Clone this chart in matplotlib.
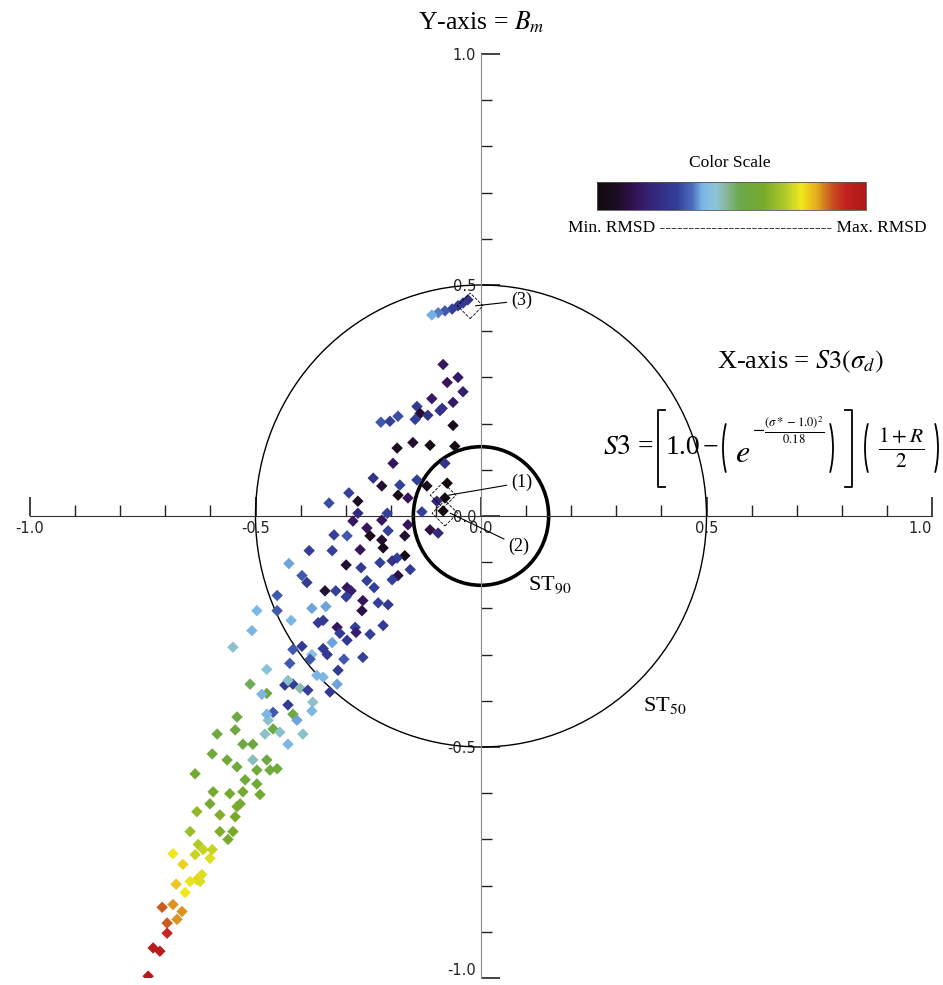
import matplotlib
matplotlib.use("Agg")
import matplotlib.pyplot as plt
import matplotlib.cm as cm
from matplotlib.colors import LinearSegmentedColormap, Normalize
from matplotlib.patches import Circle, Arc
from matplotlib.lines import Line2D
from matplotlib.ticker import MultipleLocator, FixedLocator, FormatStrFormatter

plt.rcParams["mathtext.fontset"] = "stix"
SERIF = "Liberation Serif"

# --- simulated points: x = S3(sigma_d), y = B_m, colour = normalised RMSD ---
# near label (3)
top_x = [-0.029, -0.040, -0.051, -0.064, -0.080, -0.095, -0.109]
top_y = [0.468, 0.461, 0.455, 0.448, 0.444, 0.440, 0.435]
top_c = [0.25, 0.27, 0.28, 0.30, 0.33, 0.36, 0.39]

# upper / central cloud
up_x = [-0.084, -0.051, -0.075, -0.040, -0.109, -0.062, -0.142, -0.086, -0.135, -0.118,
        -0.146, -0.184, -0.222, -0.062, -0.186, -0.151, -0.113, -0.058, -0.195, -0.080,
        -0.239, -0.220, -0.180, -0.142, -0.120, -0.293, -0.273, -0.337, -0.184, -0.162,
        -0.075, -0.080, -0.084, -0.098, -0.273, -0.208, -0.131, -0.284, -0.253, -0.206,
        -0.162, -0.169, -0.113, -0.095, -0.326, -0.297, -0.246, -0.220, -0.217, -0.381,
        -0.330, -0.268, -0.169, -0.186, -0.197, -0.091, -0.202, -0.220]
up_y = [0.328, 0.300, 0.289, 0.269, 0.254, 0.246, 0.237, 0.233, 0.222, 0.218,
        0.209, 0.216, 0.203, 0.196, 0.147, 0.159, 0.153, 0.151, 0.114, 0.114,
        0.082, 0.065, 0.067, 0.078, 0.065, 0.050, 0.032, 0.028, 0.045, 0.039,
        0.071, 0.039, 0.011, 0.032, 0.006, 0.006, 0.009, -0.011, -0.026, -0.032,
        -0.019, -0.043, -0.030, -0.037, -0.041, -0.043, -0.043, -0.052, -0.069, -0.075,
        -0.075, -0.073, -0.086, -0.091, -0.097, 0.228, 0.205, -0.009]
up_c = [0.15, 0.17, 0.15, 0.18, 0.17, 0.17, 0.28, 0.25, 0.10, 0.25,
        0.30, 0.32, 0.33, 0.05, 0.08, 0.10, 0.03, 0.03, 0.15, 0.25,
        0.25, 0.10, 0.30, 0.30, 0.05, 0.30, 0.08, 0.32, 0.03, 0.15,
        0.02, 0.02, 0.02, 0.20, 0.22, 0.30, 0.30, 0.15, 0.15, 0.30,
        0.15, 0.10, 0.12, 0.22, 0.30, 0.33, 0.05, 0.10, 0.05, 0.30,
        0.30, 0.15, 0.03, 0.30, 0.25, 0.25, 0.30, 0.15]

# middle band (crossing ST50)
mid_x = [-0.426, -0.299, -0.266, -0.224, -0.157, -0.184, -0.197, -0.397, -0.386, -0.346,
         -0.322, -0.297, -0.288, -0.253, -0.237, -0.299, -0.262, -0.228, -0.206, -0.264,
         -0.452, -0.452, -0.375, -0.344, -0.421, -0.361, -0.350, -0.319, -0.313, -0.279,
         -0.277, -0.246, -0.217, -0.297, -0.330, -0.397, -0.417, -0.350, -0.375, -0.341,
         -0.379, -0.304, -0.262, -0.424, -0.475, -0.317, -0.364, -0.350, -0.319, -0.435,
         -0.417, -0.401, -0.384, -0.428, -0.335, -0.475, -0.486, -0.373, -0.375, -0.428,
         -0.417, -0.461, -0.408, -0.472, -0.461, -0.446, -0.395]
mid_y = [-0.103, -0.106, -0.112, -0.101, -0.116, -0.129, -0.138, -0.129, -0.144, -0.162,
         -0.162, -0.155, -0.162, -0.140, -0.155, -0.175, -0.183, -0.188, -0.192, -0.205,
         -0.172, -0.205, -0.200, -0.196, -0.226, -0.231, -0.226, -0.241, -0.254, -0.241,
         -0.252, -0.256, -0.237, -0.269, -0.274, -0.282, -0.289, -0.287, -0.300, -0.300,
         -0.310, -0.310, -0.306, -0.319, -0.332, -0.334, -0.345, -0.349, -0.364, -0.366,
         -0.364, -0.373, -0.377, -0.356, -0.381, -0.384, -0.386, -0.403, -0.422, -0.409,
         -0.429, -0.425, -0.442, -0.442, -0.461, -0.468, -0.472]
mid_c = [0.38, 0.10, 0.28, 0.30, 0.28, 0.12, 0.30, 0.33, 0.28, 0.10,
         0.30, 0.15, 0.18, 0.30, 0.30, 0.30, 0.15, 0.30, 0.28, 0.12,
         0.33, 0.33, 0.38, 0.38, 0.40, 0.28, 0.28, 0.15, 0.28, 0.30,
         0.18, 0.30, 0.28, 0.28, 0.38, 0.28, 0.33, 0.28, 0.43, 0.28,
         0.33, 0.33, 0.30, 0.33, 0.43, 0.28, 0.40, 0.40, 0.38, 0.28,
         0.30, 0.47, 0.30, 0.45, 0.28, 0.55, 0.40, 0.45, 0.40, 0.28,
         0.55, 0.33, 0.38, 0.45, 0.55, 0.45, 0.45]

# lower green/yellow band
low_x = [-0.497, -0.508, -0.550, -0.512, -0.475, -0.541, -0.545, -0.585, -0.479, -0.428,
         -0.528, -0.506, -0.596, -0.563, -0.541, -0.506, -0.475, -0.497, -0.452, -0.468,
         -0.634, -0.523, -0.497, -0.594, -0.557, -0.528, -0.490, -0.601, -0.541, -0.579,
         -0.630, -0.545, -0.645, -0.579, -0.550, -0.561, -0.627, -0.616, -0.596, -0.683,
         -0.634, -0.601, -0.661, -0.534]
low_y = [-0.205, -0.248, -0.284, -0.364, -0.429, -0.435, -0.463, -0.472, -0.472, -0.494,
         -0.494, -0.494, -0.515, -0.528, -0.543, -0.528, -0.528, -0.550, -0.547, -0.550,
         -0.558, -0.571, -0.580, -0.597, -0.601, -0.597, -0.603, -0.623, -0.629, -0.647,
         -0.640, -0.651, -0.683, -0.683, -0.683, -0.700, -0.711, -0.722, -0.722, -0.731,
         -0.733, -0.741, -0.754, -0.623]
low_c = [0.40, 0.40, 0.45, 0.52, 0.40, 0.55, 0.55, 0.55, 0.45, 0.40,
         0.55, 0.55, 0.57, 0.57, 0.57, 0.46, 0.55, 0.57, 0.57, 0.57,
         0.60, 0.58, 0.58, 0.60, 0.60, 0.60, 0.60, 0.60, 0.62, 0.63,
         0.66, 0.62, 0.67, 0.63, 0.62, 0.62, 0.70, 0.72, 0.72, 0.76,
         0.72, 0.74, 0.78, 0.60]

# tail (orange / red, max RMSD)
tail_x = [-0.619, -0.630, -0.645, -0.623, -0.676, -0.656, -0.683, -0.707, -0.663, -0.696,
          -0.674, -0.696, -0.727, -0.712, -0.738]
tail_y = [-0.776, -0.787, -0.791, -0.791, -0.797, -0.815, -0.841, -0.847, -0.856, -0.881,
          -0.873, -0.903, -0.935, -0.942, -0.996]
tail_c = [0.74, 0.78, 0.75, 0.74, 0.79, 0.76, 0.83, 0.87, 0.83, 0.87,
          0.83, 0.92, 0.96, 0.96, 0.97]

# highlighted runs (1), (2), (3)
best_labels = ["(1)", "(2)", "(3)"]
best_x = [-0.084, -0.080, -0.024]
best_y = [0.045, 0.006, 0.455]

st_radius = [0.5, 0.15]          # ST50, ST90
axis_ticks = [-1.0, -0.5, 0.0, 0.5, 1.0]

cmap = LinearSegmentedColormap.from_list("rmsd", [
    (0.00, "#120a0c"), (0.08, "#1e0c26"), (0.15, "#36155e"), (0.22, "#332a80"),
    (0.30, "#33409a"), (0.35, "#4a68b8"), (0.39, "#78b4e6"), (0.44, "#8cc4d8"),
    (0.48, "#88b89c"), (0.53, "#6aa84a"), (0.62, "#78aa2a"), (0.70, "#b0c828"),
    (0.76, "#f0e81c"), (0.81, "#e8b420"), (0.85, "#d07820"), (0.89, "#c84020"),
    (0.93, "#c02020"), (1.00, "#b01818")])

W, H = 943, 985
fig = plt.figure(figsize=(W / 100, H / 100), dpi=100)


def fx(x):
    return x / W


def fy(y):
    return 1 - y / H


ax = fig.add_axes([fx(30), fy(978), 902 / W, 924 / H])
ax.set_xlim(-1, 1)
ax.set_ylim(-1, 1)
for s in ("top", "right"):
    ax.spines[s].set_visible(False)
ax.spines["left"].set_position("zero")
ax.spines["bottom"].set_position("zero")
ax.spines["left"].set_color("#8a8a8a")
ax.spines["bottom"].set_color("#333333")
for a in (ax.xaxis, ax.yaxis):
    a.set_major_locator(FixedLocator(axis_ticks))
    a.set_minor_locator(MultipleLocator(0.1))
    a.set_major_formatter(FormatStrFormatter("%.1f"))
ax.tick_params(which="major", direction="in", length=14, width=1.2,
               labelsize=10.5, colors="#222222")
ax.tick_params(which="minor", direction="in", length=8, width=1.0, colors="#222222")
fig.canvas.draw()
ax.get_xticklabels()[-1].set_horizontalalignment("right")
ax.get_yticklabels()[0].set_verticalalignment("bottom")

ax.add_patch(Circle((0, 0), st_radius[0], fill=False, lw=1.0, color="k", zorder=2))
ax.add_patch(Circle((0, 0), st_radius[1], fill=False, lw=2.6, color="k", zorder=2))

xs = top_x + up_x + mid_x + low_x + tail_x
ys = top_y + up_y + mid_y + low_y + tail_y
cs = top_c + up_c + mid_c + low_c + tail_c
ax.scatter(xs, ys, c=cs, cmap=cmap, vmin=0, vmax=1, marker="D", s=34,
           linewidths=0, zorder=3)

ax.scatter(best_x, best_y, marker="D", s=170, facecolors="none", edgecolors="k",
           linewidths=0.6, linestyles="--", zorder=4)
label_pos = [(0.066, 0.072), (0.060, -0.065), (0.066, 0.466)]
for lab, bx, by, (tx, ty) in zip(best_labels, best_x, best_y, label_pos):
    ax.annotate(lab, xy=(bx + 0.012, by), xytext=(tx, ty), va="center", ha="left",
                fontfamily=SERIF, fontsize=13,
                arrowprops=dict(arrowstyle="-", lw=0.8, color="k",
                                shrinkA=1, shrinkB=0))

ax.text(0.104, -0.15, r"ST$_{90}$", fontfamily=SERIF, fontsize=16, va="center")
ax.text(0.36, -0.41, r"ST$_{50}$", fontfamily=SERIF, fontsize=16, va="center")

# axis definitions
fig.text(fx(481), fy(22), r"Y-axis = $B_m$", fontfamily=SERIF, fontsize=18.5,
         ha="center", va="center")
fig.text(fx(800), fy(362), r"X-axis = $S3(\sigma_d)$", fontfamily=SERIF, fontsize=19,
         ha="center", va="center")

# S3 formula, built piece by piece so the brackets span the full height
yc = 448
fig.text(fx(603), fy(yc), r"$S3$ =", fontfamily=SERIF, fontsize=20,
         ha="left", va="center")
fig.text(fx(666), fy(yc), "1.0", fontfamily=SERIF, fontsize=20,
         ha="left", va="center")
fig.text(fx(703), fy(yc), "\u2212", fontfamily=SERIF, fontsize=20,
         ha="left", va="center")
fig.text(fx(735), fy(yc + 5), r"$e$", fontsize=23, ha="left", va="center")
fig.text(fx(752), fy(430), r"$-\frac{(\sigma*-1.0)^2}{0.18}$", fontsize=13,
         ha="left", va="center")
fig.text(fx(901), fy(yc), r"$\frac{1+R}{2}$", fontsize=22, ha="center", va="center")
for x0, d in ((658, 1), (852, -1)):
    fig.add_artist(Line2D([fx(x0 + 7 * d), fx(x0), fx(x0), fx(x0 + 7 * d)],
                          [fy(410), fy(410), fy(487), fy(487)],
                          transform=fig.transFigure, color="k", lw=1.3))
for xc, t1, t2 in ((737, 115, 245), (819, -65, 65), (879, 115, 245), (924, -65, 65)):
    fig.add_artist(Arc((fx(xc), fy(yc)), 28 / W, 80 / H, theta1=t1, theta2=t2,
                       transform=fig.transFigure, color="k", lw=1.3))

# colour scale
cax = fig.add_axes([fx(597), fy(210), 269 / W, 28 / H])
cb = fig.colorbar(cm.ScalarMappable(norm=Normalize(0, 1), cmap=cmap), cax=cax,
                  orientation="horizontal")
cb.set_ticks([])
cb.outline.set_linewidth(0.6)
cb.outline.set_edgecolor("#555555")
fig.text(fx(730), fy(163), "Color Scale", fontfamily=SERIF, fontsize=12.5,
         ha="center", va="center")
fig.text(fx(747), fy(228), "Min. RMSD " + "-" * 30 + " Max. RMSD",
         fontfamily=SERIF, fontsize=12.5, ha="center", va="center")

fig.savefig("out.png", dpi=100)
